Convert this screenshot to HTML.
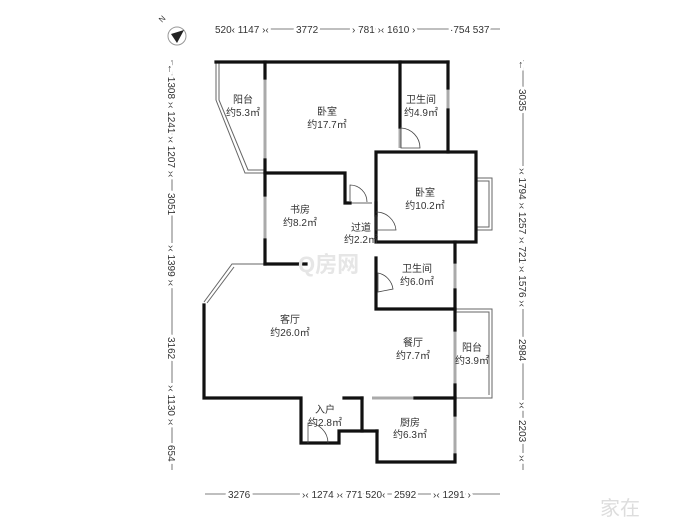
<!DOCTYPE html>
<html><head><meta charset="utf-8"><style>
body{margin:0;background:#fff}
svg text{font-family:"Liberation Sans","Noto Sans CJK SC",sans-serif;fill:#333}
.d text{paint-order:stroke;stroke:#fff;stroke-width:5px}
</style></head><body>
<svg width="700" height="525" viewBox="0 0 700 525" xmlns="http://www.w3.org/2000/svg">
<rect width="700" height="525" fill="#fff"/>
<circle cx="177" cy="36" r="9" fill="none" stroke="#999" stroke-width="1"/>
<polygon points="184,30 171,34 177,43" fill="#222"/>
<text x="160" y="22" font-size="8" transform="rotate(-45 162 20)">N</text>
<g stroke="#555" stroke-width="0.8" fill="none">
<line x1="240" y1="29" x2="500" y2="29"/>
<line x1="172" y1="60" x2="172" y2="470"/>
<line x1="523" y1="60" x2="523" y2="470"/>
<line x1="205" y1="494" x2="500" y2="494"/>
</g>
<g font-size="10" class="d">
<text x="215" y="33">520‹ 1147 ›‹</text>
<text x="296" y="33">3772</text>
<text x="352" y="33">› 781 ›‹ 1610 ›</text>
<text x="450" y="33">·754 537</text>
<text x="228" y="498">3276</text>
<text x="302" y="498">›‹ 1274 ›‹ 771 520‹</text>
<text x="394" y="498">2592</text>
<text x="433" y="498">›‹ 1291 ›</text>
<g transform="translate(168,60) rotate(90)">
<text x="4" y="0">← 1308 ›‹ 1241 ›‹ 1207 ›‹</text>
<text x="133" y="0">3051</text>
<text x="185" y="0">›‹ 1399 ›‹</text>
<text x="277" y="0">3162</text>
<text x="325" y="0">›‹ 1130 ›‹</text>
<text x="385" y="0">654</text>
</g>
<g transform="translate(519,60) rotate(90)">
<text x="0" y="0">←</text>
<text x="29" y="0">3035</text>
<text x="108" y="0">›‹ 1794 ›‹ 1257 ›‹ 721 ›‹ 1576 ›‹</text>
<text x="279" y="0">2984</text>
<text x="342" y="0">›‹</text>
<text x="360" y="0">2203</text>
<text x="395" y="0">›‹</text>
</g>
</g>
<g stroke="#aaa" stroke-width="3" fill="none">
<line x1="265" y1="78" x2="265" y2="160"/>
<line x1="400" y1="127" x2="400" y2="148"/>
<line x1="448" y1="88" x2="448" y2="110"/>
<line x1="265" y1="195" x2="265" y2="240"/>
<line x1="455" y1="330" x2="455" y2="385"/>
<line x1="372" y1="398" x2="415" y2="398"/>
<line x1="455" y1="415" x2="455" y2="455"/>
<line x1="455" y1="262" x2="455" y2="290"/>
</g>
<g stroke="#666" stroke-width="1" fill="none">
<polyline points="216,62 216,100 245,173 265,173"/>
<polyline points="219,62 219,100 248,170 265,170"/>
<polyline points="204,302 232,264 265,264"/>
<polyline points="207,303 234,267"/>
<polyline points="455,309 492,309 492,398 455,398"/>
<polyline points="455,312 489,312 489,395"/>
<rect x="476" y="178" width="16" height="52"/>
<rect x="476" y="181" width="13" height="46"/>
<line x1="348" y1="203" x2="372" y2="203"/>
</g>
<g stroke="#111" stroke-width="3.2" fill="none" stroke-linecap="square">
<line x1="216" y1="62" x2="448" y2="62"/>
<line x1="265" y1="62" x2="265" y2="78"/>
<polyline points="265,160 265,173 345,173 345,203 350,203"/>
<line x1="400" y1="62" x2="400" y2="127"/>
<line x1="448" y1="62" x2="448" y2="88"/>
<line x1="448" y1="110" x2="448" y2="152"/>
<rect x="376" y="152" width="100" height="90"/>
<line x1="376" y1="203" x2="376" y2="215"/>
<line x1="265" y1="173" x2="265" y2="195"/>
<line x1="265" y1="240" x2="265" y2="264"/>
<line x1="265" y1="264" x2="306" y2="264"/>
<polyline points="376,258 376,309 455,309 455,290"/>
<line x1="455" y1="242" x2="455" y2="262"/>
<line x1="455" y1="309" x2="455" y2="330"/>
<polyline points="204,305 204,398 301,398 301,443 339,443 339,431 377,431"/>
<line x1="455" y1="385" x2="455" y2="415"/>
<polyline points="377,431 377,462 455,462 455,455"/>
<line x1="344" y1="398" x2="362" y2="398"/>
<line x1="362" y1="398" x2="362" y2="431"/>
<line x1="415" y1="398" x2="455" y2="398"/>
</g>
<g stroke="#444" stroke-width="0.8" fill="none">
<path d="M401,127 L401,148 L420,148 A20,20 0 0 0 401,128"/>
<path d="M350,201 L350,185 A17,17 0 0 1 367,202"/>
<path d="M376,215 L376,230 L396,230 A20,20 0 0 0 376,212"/>
<path d="M378,292 L378,273 A19,19 0 0 1 393,289 Z"/>
<path d="M308,443 L308,423 A20,20 0 0 1 328,443"/>
</g>
<text x="298" y="272" font-size="22" style="fill:#e6e6e6" font-weight="bold">Q房网</text>
<text x="600" y="515" font-size="20" style="fill:#ddd">家在</text>
<g font-size="10" text-anchor="middle">
<text x="243" y="103">阳台</text><text x="243" y="116">约5.3㎡</text>
<text x="327" y="115">卧室</text><text x="327" y="128">约17.7㎡</text>
<text x="421" y="103">卫生间</text><text x="421" y="116">约4.9㎡</text>
<text x="425" y="196">卧室</text><text x="425" y="209">约10.2㎡</text>
<text x="300" y="213">书房</text><text x="300" y="226">约8.2㎡</text>
<text x="361" y="231">过道</text><text x="361" y="243">约2.2㎡</text>
<text x="417" y="272">卫生间</text><text x="417" y="285">约6.0㎡</text>
<text x="290" y="323">客厅</text><text x="290" y="336">约26.0㎡</text>
<text x="413" y="346">餐厅</text><text x="413" y="359">约7.7㎡</text>
<text x="472" y="351">阳台</text><text x="472" y="364">约3.9㎡</text>
<text x="325" y="413">入户</text><text x="325" y="426">约2.8㎡</text>
<text x="410" y="426">厨房</text><text x="410" y="438">约6.3㎡</text>
</g>
</svg>
</body></html>
